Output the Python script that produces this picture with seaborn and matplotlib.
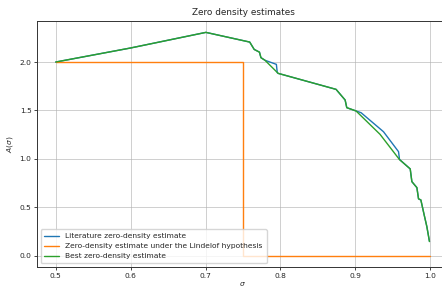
import numpy as np
import pandas as pd
import seaborn as sns
import matplotlib
matplotlib.use("Agg")
import matplotlib.pyplot as plt

# values
sigma_lit = [0.5, 0.6, 0.7005, 0.759, 0.762, 0.765, 0.772, 0.774, 0.7794,
             0.7946, 0.7958, 0.797, 0.8743, 0.8864, 0.8886, 0.901, 0.9077,
             0.9376, 0.9577, 0.959, 0.9733, 0.9755, 0.9822, 0.9844, 0.9875,
             0.990, 0.992, 0.9955, 0.999]
A_lit = [2.0, 2.145, 2.306, 2.206, 2.168, 2.13, 2.102, 2.045, 2.018,
         1.976, 1.89, 1.883, 1.718, 1.608, 1.529, 1.495, 1.477,
         1.281, 1.075, 0.995, 0.897, 0.766, 0.704, 0.588, 0.577,
         0.49, 0.42, 0.302, 0.148]

sigma_lh = [0.5, 0.75, 0.75, 1.0]
A_lh = [2.0, 2.0, 0.0, 0.0]

sigma_best = [0.5, 0.6, 0.7005, 0.759, 0.762, 0.765, 0.772, 0.774, 0.7794,
              0.797, 0.8743, 0.8864, 0.8886, 0.901, 0.933, 0.959, 0.9733,
              0.9755, 0.9822, 0.9844, 0.9875, 0.990, 0.992, 0.9955, 0.999]
A_best = [2.0, 2.145, 2.306, 2.206, 2.168, 2.13, 2.102, 2.045, 2.018,
          1.883, 1.718, 1.608, 1.529, 1.495, 1.254, 0.993, 0.897,
          0.766, 0.704, 0.588, 0.577, 0.49, 0.42, 0.302, 0.148]

sns.set_style("ticks")
plt.rcParams["font.family"] = ["DejaVu Sans"]
plt.rcParams["font.size"] = 5.4
plt.rcParams["axes.titlesize"] = 6.4

fig = plt.figure(figsize=(4.42, 2.87), dpi=100)
ax = fig.add_axes([0.0837, 0.0697, 0.932, 0.857])

lw = 1.0
sns.lineplot(x=sigma_lit, y=A_lit, sort=False, estimator=None, color="#1f77b4",
             lw=lw, label="Literature zero-density estimate", ax=ax)
sns.lineplot(x=sigma_lh, y=A_lh, sort=False, estimator=None, color="#ff7f0e",
             lw=lw, label="Zero-density estimate under the Lindelof hypothesis", ax=ax)
sns.lineplot(x=sigma_best, y=A_best, sort=False, estimator=None, color="#2ca02c",
             lw=lw, label="Best zero-density estimate", ax=ax)

ax.set_xlim(0.475, 1.025)
ax.set_ylim(-0.115, 2.423)
ax.set_xticks([0.5, 0.6, 0.7, 0.8, 0.9, 1.0])
ax.set_yticks([0.0, 0.5, 1.0, 1.5, 2.0])
ax.grid(True, color="#b0b0b0", lw=0.6, alpha=0.7)
ax.tick_params(length=2, width=0.6, pad=2)
for s in ax.spines.values():
    s.set_linewidth(0.7)
    s.set_color("#333333")

ax.set_title("Zero density estimates", pad=4)
ax.set_xlabel(r"$\sigma$", labelpad=1)
ax.set_ylabel(r"$A(\sigma)$", labelpad=3)
ax.legend(loc="lower left", frameon=True, handlelength=2, borderpad=0.5,
          labelspacing=0.5)

fig.savefig("out.png", dpi=100)
